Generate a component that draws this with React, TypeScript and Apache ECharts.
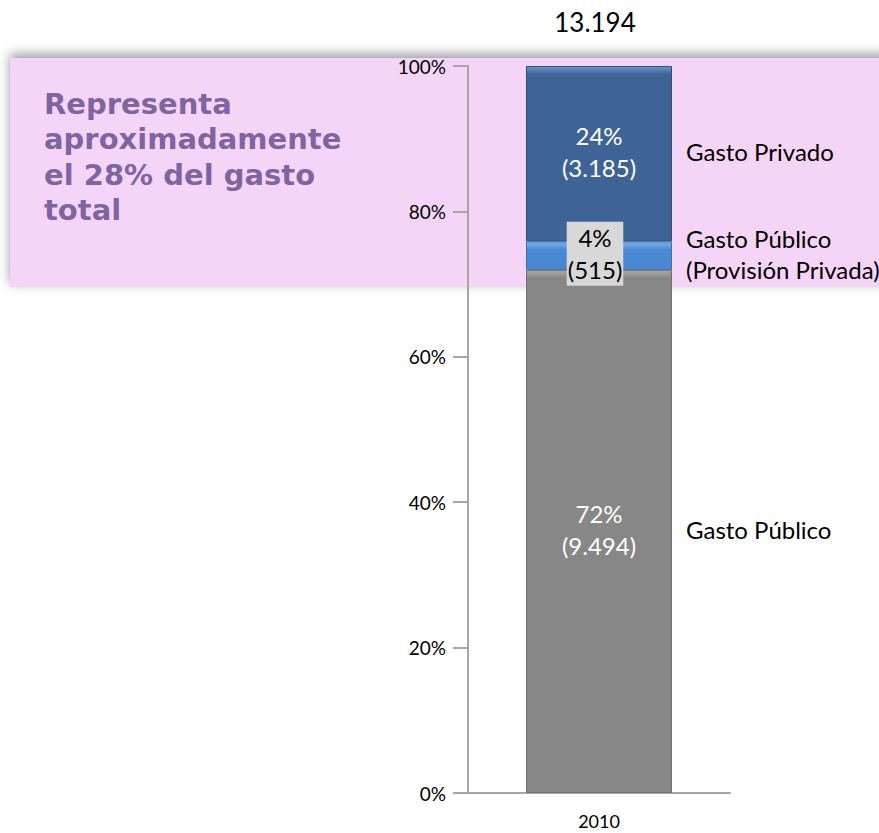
import React, { useEffect, useRef } from "react";
import * as echarts from "echarts";

const categories = ["2010"];
const seriesNames = ["Gasto Público", "Gasto Público (Provisión Privada)", "Gasto Privado"];
const sideLabels = ["Gasto Público", "Gasto Público\n(Provisión Privada)", "Gasto Privado"];
const amounts = [9494, 515, 3185];
const percentLabels = ["72%", "4%", "24%"];
const amountLabels = ["(9.494)", "(515)", "(3.185)"];
const totalLabel = "13.194";
const yTicks = [0, 20, 40, 60, 80, 100];
const noteLines = ["Representa", "aproximadamente", "el 28% del gasto", "total"];

const FONT = "Lato, 'Open Sans', sans-serif";

const colors = [
  { top: "#ababab", main: "#878787", border: "#6f6f6f" },
  { top: "#7db5f0", main: "#4a88d2", border: "#3a6fb0" },
  { top: "#6e95c8", main: "#3e6497", border: "#2f4f7a" },
];

export default function App() {
  const ref = useRef<HTMLDivElement>(null);
  useEffect(() => {
    if (!ref.current) return;
    const chart = echarts.init(ref.current, undefined, { renderer: "svg" });
    const total = amounts.reduce((a, b) => a + b, 0);
    const pct = amounts.map((v) => (v / total) * 100);

    const series = seriesNames.map((name, i) => {
      const h = i === 0 ? 522 : i === 1 ? 28 : 176;
      const bevel = Math.min(0.35, 8 / h);
      return {
        name,
        type: "bar",
        stack: "total",
        barWidth: 146,
        data: [pct[i]],
        itemStyle: {
          color: {
            type: "linear",
            x: 0,
            y: 0,
            x2: 0,
            y2: 1,
            colorStops: [
              { offset: 0, color: colors[i].top },
              { offset: bevel, color: colors[i].main },
              { offset: 1, color: colors[i].main },
            ],
          },
          borderColor: colors[i].border,
          borderWidth: 1,
        },
        label: {
          show: true,
          position: "inside",
          formatter: () => `${percentLabels[i]}\n${amountLabels[i]}`,
          fontFamily: FONT,
          fontSize: 24,
          lineHeight: 32,
          color: i === 1 ? "#000000" : "#ffffff",
          backgroundColor: i === 1 ? "#d8d8d8" : "transparent",
          padding: i === 1 ? [0, 1] : 0,
          offset: i === 1 ? [-4, -2] : [0, -2],
        },
        z: 5,
      };
    });

    chart.setOption({
      animation: false,
      backgroundColor: "#ffffff",
      grid: { left: 468, right: 149, top: 66, bottom: 40, containLabel: false },
      xAxis: {
        type: "category",
        data: categories,
        axisLine: { show: true, lineStyle: { color: "#a6a6a6", width: 2 } },
        axisTick: { show: false },
        axisLabel: { fontFamily: FONT, fontSize: 18, color: "#000", margin: 19 },
      },
      yAxis: {
        type: "value",
        min: 0,
        max: 100,
        interval: 20,
        axisLine: { show: true, lineStyle: { color: "#a6a6a6", width: 2 } },
        axisTick: { show: true, length: 15, lineStyle: { color: "#a6a6a6", width: 2 } },
        splitLine: { show: false },
        axisLabel: {
          formatter: (v: number) => (yTicks.includes(v) ? `${v}%` : ""),
          fontFamily: FONT,
          fontSize: 19,
          color: "#000",
          margin: 22,
        },
      },
      series,
    });

    let cum = 0;
    const texts: any[] = [];
    pct.forEach((p, i) => {
      const mid = cum + p / 2;
      cum += p;
      const pt = chart.convertToPixel({ xAxisIndex: 0, yAxisIndex: 0 }, [categories[0], mid]);
      texts.push({
        type: "text",
        x: pt[0] + 87,
        y: pt[1] - 2,
        z: 50,
        style: {
          text: sideLabels[i],
          fontFamily: FONT,
          fontSize: 24,
          lineHeight: 31,
          fill: "#000",
          align: "left",
          verticalAlign: "middle",
        },
      });
    });
    const topPt = chart.convertToPixel({ xAxisIndex: 0, yAxisIndex: 0 }, [categories[0], cum]);
    texts.push({
      type: "text",
      x: topPt[0] - 4,
      y: topPt[1] - 44,
      z: 50,
      style: {
        text: totalLabel,
        fontFamily: FONT,
        fontSize: 26,
        fill: "#000",
        align: "center",
        verticalAlign: "middle",
      },
    });

    chart.setOption({
      graphic: [
        {
          type: "rect",
          z: -10,
          shape: { x: 10, y: 58, width: 900, height: 229 },
          style: {
            fill: "#f5d5f7",
            shadowColor: "rgba(0,0,0,0.4)",
            shadowBlur: 12,
            shadowOffsetY: -4,
          },
          silent: true,
        },
        {
          type: "text",
          x: 44,
          y: 86,
          z: 50,
          style: {
            text: noteLines.join("\n"),
            fontFamily: "'DejaVu Sans', Verdana, sans-serif",
            fontWeight: "bold",
            fontSize: 29,
            lineHeight: 35.5,
            fill: "#8064a2",
            align: "left",
            verticalAlign: "top",
          },
        },
        ...texts,
      ],
    });

    return () => chart.dispose();
  }, []);
  return (
    <div
      ref={ref}
      style={{ position: "fixed", left: 0, top: 0, width: 879, height: 833 }}
    />
  );
}
